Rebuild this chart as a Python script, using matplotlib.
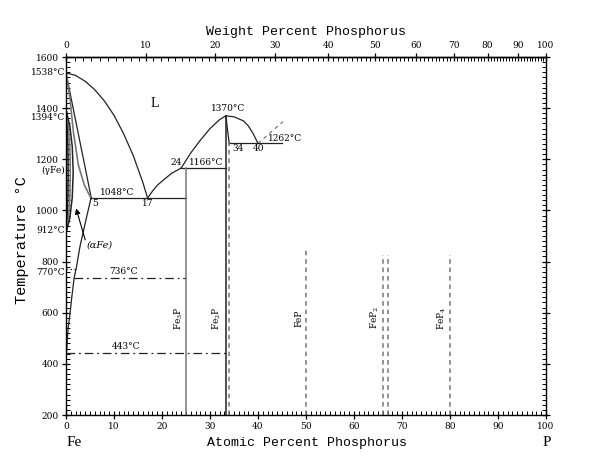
import numpy as np
import matplotlib.pyplot as plt
from matplotlib.ticker import MultipleLocator, FixedLocator

M_FE, M_P = 55.845, 30.974


def at2wt(a):
    a = np.asarray(a, dtype=float)
    with np.errstate(divide="ignore", invalid="ignore"):
        return 100 * a * M_P / (a * M_P + (100 - a) * M_FE)


def wt2at(w):
    w = np.asarray(w, dtype=float)
    with np.errstate(divide="ignore", invalid="ignore"):
        return 100 * (w / M_P) / (w / M_P + (100 - w) / M_FE)


# --- phase boundaries (at.% P, deg C) ---
liq_fe_x = [0, 2, 4, 6, 8, 10, 12, 14, 16, 17]
liq_fe_t = [1538, 1528, 1505, 1472, 1428, 1372, 1300, 1215, 1110, 1048]

liq_fe3p_x = [17, 18, 19, 20.3, 22, 24]
liq_fe3p_t = [1048, 1075, 1098, 1119, 1145, 1166]

liq_fe2p_x = [24, 26, 28, 30, 32, 33.3, 35, 37, 38, 39, 40]
liq_fe2p_t = [1166, 1225, 1275, 1320, 1355, 1370, 1366, 1350, 1330, 1300, 1262]

liq_p_x = [40, 45.2]
liq_p_t = [1262, 1347]

sol_a_x = [0, 5.3]
sol_a_t = [1538, 1046]
sol_b_x = [0, 0.83, 1.53, 2.57, 3.8, 5.2]
sol_b_t = [1538, 1438, 1308, 1178, 1100, 1048]

solvus_x = [5.2, 4.0, 2.9, 2.2, 1.7, 1.2, 0.8, 0.45, 0.25, 0.1]
solvus_t = [1048, 950, 858, 780, 737, 660, 590, 540, 490, 443]

loop_t = [1394, 1330, 1250, 1150, 1050, 970, 912]
loop1_x = [0, 0.25, 0.4, 0.45, 0.4, 0.25, 0]
loop2_x = [0, 0.5, 0.8, 0.9, 0.8, 0.5, 0]
loop3_x = [0, 0.8, 1.3, 1.5, 1.3, 0.8, 0]

fe2p_edge_x = [33.3, 34]
fe2p_edge_t = [1370, 1262]

# invariant lines: (x from, x to, T)
eut_1048 = (5.2, 25, 1048)
per_1166 = (24, 33.3, 1166)
eut_1262 = (34, 45, 1262)
line_736 = (1.7, 25, 736)
line_443 = (0.1, 33.3, 443)

# compounds
compounds_solid = [(25, 1166, "#777777"), (33.3, 1370, "#222222")]
compounds_dashed = [(33.9, 1262), (50, 855), (66, 826), (67, 826), (80, 826)]
compound_labels = [(r"Fe$_3$P", 23.5), (r"Fe$_2$P", 31.5), ("FeP", 48.6),
                   (r"FeP$_2$", 64.3), (r"FeP$_4$", 78.3)]

ink = "#222222"
gray = "#777777"
serif = "DejaVu Serif"
plt.rcParams["mathtext.fontset"] = "dejavuserif"

fig = plt.figure(figsize=(5.95, 4.73), dpi=100)
ax = fig.add_axes([66 / 595, 1 - 415 / 473, 480 / 595, 358 / 473])
ax.set_xlim(0, 100)
ax.set_ylim(200, 1600)

lw = 0.9
ax.plot(liq_fe_x, liq_fe_t, color=ink, lw=lw)
ax.plot(liq_fe3p_x, liq_fe3p_t, color=ink, lw=lw)
ax.plot(liq_fe2p_x, liq_fe2p_t, color=ink, lw=lw)
ax.plot(liq_p_x, liq_p_t, color=gray, lw=lw, ls=(0, (3, 3)))
ax.plot(sol_a_x, sol_a_t, color=ink, lw=lw)
ax.plot(sol_b_x, sol_b_t, color=gray, lw=1.2)
ax.plot(solvus_x, solvus_t, color=ink, lw=lw)
ax.plot(loop1_x, loop_t, color=ink, lw=1.1)
ax.plot(loop2_x, loop_t, color=gray, lw=1.1)
ax.plot(loop3_x, loop_t, color=ink, lw=1.1)
ax.plot(fe2p_edge_x, fe2p_edge_t, color=ink, lw=lw)

for x0, x1, t in (eut_1048, per_1166, eut_1262):
    ax.plot([x0, x1], [t, t], color=ink, lw=lw)
for x0, x1, t in (line_736, line_443):
    ax.plot([x0, x1], [t, t], color=ink, lw=lw, ls=(0, (7, 3, 1.5, 3)))
ax.plot([0, 2.1], [770, 770], color=ink, lw=0.8, ls=(0, (1.5, 2)))

for x, top, c in compounds_solid:
    ax.plot([x, x], [200, top], color=c, lw=1.1)
for x, top in compounds_dashed:
    ax.plot([x, x], [200, top], color=gray, lw=1.1, ls=(0, (3, 2.5)))

fs = 6.5
for name, x in compound_labels:
    ax.text(x, 580, name, rotation=90, ha="center", va="center", fontsize=fs,
            family=serif)

# labels inside the diagram
ax.text(18.5, 1420, "L", fontsize=10, family="Liberation Serif", ha="center", va="center")
ax.text(33.7, 1397, "1370°C", fontsize=fs, family=serif, ha="center", va="center")
ax.text(29.3, 1187, "1166°C", fontsize=fs, family=serif, ha="center", va="center")
ax.text(22.9, 1187, "24", fontsize=fs, family=serif, ha="center", va="center")
ax.text(10.6, 1069, "1048°C", fontsize=fs, family=serif, ha="center", va="center")
ax.text(6.0, 1029, "5", fontsize=fs, family=serif, ha="center", va="center")
ax.text(17.1, 1029, "17", fontsize=fs, family=serif, ha="center", va="center")
ax.text(35.8, 1244, "34", fontsize=fs, family=serif, ha="center", va="center")
ax.text(40.2, 1244, "40", fontsize=fs, family=serif, ha="center", va="center")
ax.text(42.1, 1283, "1262°C", fontsize=fs, family=serif, ha="left", va="center")
ax.text(11.9, 760, "736°C", fontsize=fs, family=serif, ha="center", va="center")
ax.text(12.5, 466, "443°C", fontsize=fs, family=serif, ha="center", va="center")
ax.text(4.2, 865, "(αFe)", fontsize=fs + 0.5, family=serif, style="italic",
        ha="left", va="center")
ax.annotate("", xy=(2.1, 1008), xytext=(4.0, 885),
            arrowprops=dict(arrowstyle="-|>", color="black", lw=0.8,
                            mutation_scale=8, shrinkA=0, shrinkB=0))

# labels left of the temperature axis
ytr = ax.get_yaxis_transform()
for txt, t in [("1538°C", 1538), ("1394°C", 1365), ("(γFe)", 1158),
               ("912°C", 920), ("770°C", 756)]:
    ax.text(-0.002, t, txt, transform=ytr, fontsize=fs, family=serif,
            ha="right", va="center")

# axes and ticks
for s in ax.spines.values():
    s.set_linewidth(1.0)
ax.xaxis.set_major_locator(MultipleLocator(10))
ax.xaxis.set_minor_locator(MultipleLocator(1))
ax.yaxis.set_major_locator(MultipleLocator(200))
ax.yaxis.set_minor_locator(MultipleLocator(20))
ax.tick_params(which="major", direction="inout", length=6, width=0.9,
               labelsize=fs, right=True)
ax.tick_params(which="minor", direction="in", length=3, width=0.7, right=True)
for lab in ax.get_xticklabels() + ax.get_yticklabels():
    lab.set_family(serif)
ax.tick_params(axis="y", pad=2)
ax.tick_params(axis="x", pad=2)

top = ax.secondary_xaxis("top", functions=(at2wt, wt2at))
top.xaxis.set_major_locator(FixedLocator(list(range(0, 101, 10))))
top.xaxis.set_minor_locator(FixedLocator([w for w in range(1, 100) if w % 10]))
top.tick_params(which="major", direction="inout", length=6, width=0.9,
                labelsize=fs, pad=2)
top.tick_params(which="minor", direction="in", length=3, width=0.7)
top.spines["top"].set_linewidth(1.0)
for lab in top.get_xticklabels():
    lab.set_family(serif)

mono = "Liberation Mono"
fig.text(306 / 595, 1 - 32 / 473, "Weight Percent Phosphorus", family=mono,
         fontsize=9.5, ha="center", va="center")
fig.text(307 / 595, 1 - 443 / 473, "Atomic Percent Phosphorus", family=mono,
         fontsize=9.5, ha="center", va="center")
fig.text(22 / 595, 1 - 240 / 473, "Temperature °C", family=mono, fontsize=11,
         rotation=90, ha="center", va="center")
fig.text(67 / 595, 1 - 443 / 473, "Fe", family="Liberation Serif", fontsize=11,
         ha="left", va="center")
fig.text(547 / 595, 1 - 443 / 473, "P", family="Liberation Serif", fontsize=11,
         ha="center", va="center")

fig.savefig("out.png", dpi=100)
